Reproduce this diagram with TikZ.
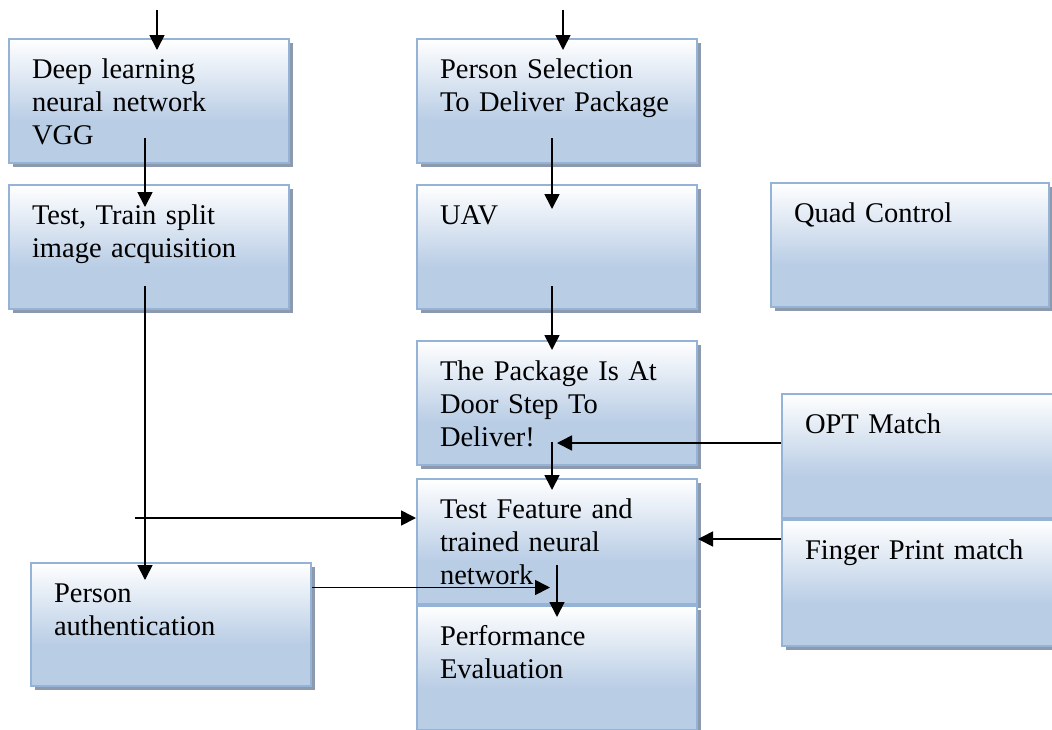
\documentclass[tikz,border=0pt]{standalone}
\usepackage{fontspec}
\setmainfont{Liberation Serif}
\usetikzlibrary{positioning,arrows.meta,shadows}
\definecolor{boxblue}{RGB}{185,205,229}
\definecolor{boxline}{RGB}{149,179,215}
\definecolor{boxshadow}{RGB}{141,153,172}
\pgfdeclareverticalshading{boxfill}{100bp}{color(0bp)=(boxblue); color(42bp)=(boxblue); color(75bp)=(white); color(100bp)=(white)}
\newcommand{\boxlines}[1]{\noindent\begin{tabular}[t]{@{}l@{}}#1\end{tabular}}

\begin{document}
\begin{tikzpicture}[x=1pt, y=-1pt,
  box/.style={draw=boxline, line width=2pt, shading=boxfill,
              drop shadow={shadow xshift=4pt, shadow yshift=-4pt, fill=boxshadow, opacity=1},
              anchor=north west, inner xsep=23pt, inner ysep=16pt,
              text width=234pt, text height=23pt, text depth=69pt,
              font=\fontsize{28.5}{33}\selectfont},
  arr/.style={-{Triangle[length=15pt, width=15pt]}, line width=1.7pt}]
\useasboundingbox (0,0) rectangle (1052,729);
\node[box] (dl) at (8,38) {\boxlines{Deep learning\\ neural network\\ VGG}};
\node[box, below=20pt of dl] (split) {\boxlines{Test, Train split\\ image acquisition}};
\node[box] (sel) at (416,38) {\boxlines{Person Selection\\ To Deliver Package}};
\node[box, below=20pt of sel] (uav) {\boxlines{UAV}};
\node[box, text width=232pt] (quad) at (770,182) {\boxlines{Quad Control}};
\node[box] (door) at (416,340) {\boxlines{The Package Is At\\ Door Step To\\ Deliver!}};
\node[box, text depth=70pt] (feat) at (416,478) {\boxlines{Test Feature and\\ trained neural\\ network}};
\node[box, below=0pt of feat] (perf) {\boxlines{Performance\\ Evaluation}};
\node[box] (opt) at (781,393) {\boxlines{OPT Match}};
\node[box, text depth=71pt, below=0pt of opt] (finger) {\boxlines{Finger Print match}};
\node[box, text depth=68pt] (auth) at (30,562) {\boxlines{Person\\ authentication}};
% flow arrows
\draw[arr] ([xshift=8pt,yshift=28pt]dl.north) -- ([xshift=8pt,yshift=-12pt]dl.north);
\draw[arr] ([xshift=-4pt,yshift=26pt]dl.south) -- ([xshift=-4pt,yshift=-23pt]split.north);
\draw[arr] ([xshift=-4pt,yshift=24pt]split.south) -- ([xshift=-26pt,yshift=-18pt]auth.north);
\draw[arr] ([xshift=6pt,yshift=28pt]sel.north) -- ([xshift=6pt,yshift=-12pt]sel.north);
\draw[arr] ([xshift=-5pt,yshift=26pt]sel.south) -- ([xshift=-5pt,yshift=-25pt]uav.north);
\draw[arr] ([xshift=-5pt,yshift=24pt]uav.south) -- ([xshift=-5pt,yshift=-10pt]door.north);
\draw[arr] ([xshift=-5pt,yshift=24pt]door.south) -- ([xshift=-5pt,yshift=-12pt]feat.north);
\draw[arr] ([yshift=40pt]feat.south) -- ([yshift=-12pt]perf.north);
\coordinate (optout) at ([yshift=-50pt]opt.north west);
\draw[arr] (optout) -- (optout -| door.center);
\coordinate (fingerout) at ([yshift=-20pt]finger.north west);
\draw[arr] (fingerout) -- (fingerout -| feat.east);
\coordinate (tap) at (135,518);
\draw[arr] (tap) -- (tap -| feat.west);
\coordinate (authout) at ([yshift=37pt]auth.east);
\draw[arr, shorten >=7pt] (authout) -- (authout -| feat.center);
\end{tikzpicture}
\end{document}
